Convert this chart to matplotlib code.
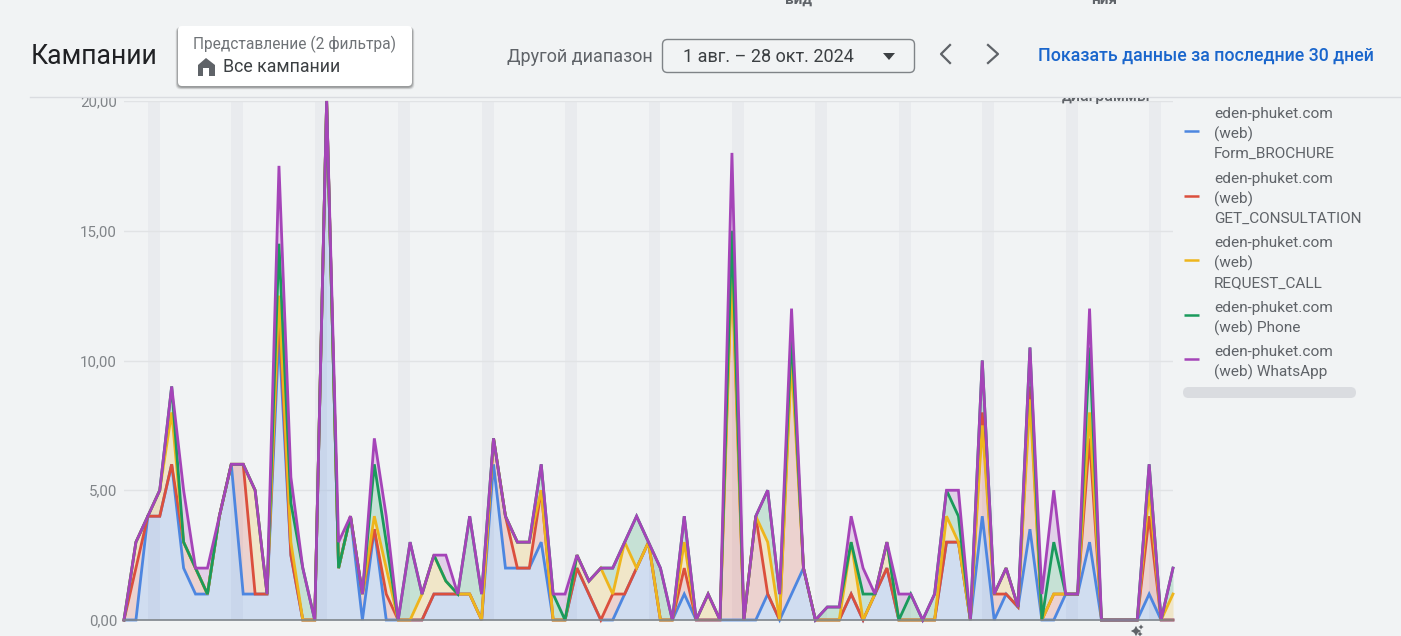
import matplotlib
matplotlib.use('Agg')
import matplotlib.pyplot as plt
from matplotlib.patches import FancyBboxPatch, Polygon, Rectangle

plt.rcParams['font.family'] = ['Roboto', 'DejaVu Sans']

# stacked tops, one value per day
form_brochure = [0, 0, 4, 4, 6, 2, 1, 1, 4, 6, 1, 1, 1, 11, 2.5, 0, 0, 20, 2, 4,
                 0, 3.5, 0, 0, 0, 0, 1, 1, 1, 1, 0, 6, 2, 2, 2, 3, 0, 0, 2, 1,
                 0, 0, 1, 2, 3, 0, 0, 1, 0, 0, 0, 0, 0, 0, 1, 0, 1, 2, 0, 0,
                 0, 1, 0, 1, 2, 0, 0, 0, 0, 3, 3, 0, 4, 0, 1, 0.5, 3.5, 0, 0, 1,
                 1, 3, 0, 0, 0, 0, 1, 0, 0]
get_consultation = [0, 2, 4, 4, 6, 3, 2, 1, 4, 6, 6, 1, 1, 12, 2.5, 0, 0, 20, 2, 4,
                    1, 3.5, 1, 0, 0, 0, 1, 1, 1, 1, 0, 7, 4, 2, 2, 5, 0, 0, 2, 1,
                    0, 1, 1, 2, 3, 0, 0, 2, 0, 0, 0, 14, 0, 4, 1, 0, 10.5, 2, 0, 0,
                    0, 1, 0, 1, 2, 0, 0, 0, 0, 3, 3, 0, 8, 1, 1, 0.5, 9, 0, 1, 1,
                    1, 7, 0, 0, 0, 0, 4, 0, 0]
request_call = [0, 3, 4, 5, 8, 3, 2, 1, 4, 6, 6, 5, 1, 12.5, 3, 0, 0, 20, 2, 4,
                1, 4, 2, 0, 0, 1, 2.5, 1.5, 1, 1, 0, 7, 4, 3, 3, 5, 0, 0, 2.5, 1.5,
                2, 1, 3, 2, 3, 0, 0, 3, 0, 1, 0, 13.5, 0, 4, 3, 0, 10, 2, 0, 0,
                0, 3, 0, 1, 3, 0, 0, 0, 0, 4, 3, 0, 7.5, 1, 2, 0.5, 8.5, 0, 1, 1,
                1, 8, 0, 0, 0, 0, 5, 0, 1]
phone = [0, 3, 4, 5, 9, 3, 2, 1, 4, 6, 6, 5, 1, 14.5, 4.5, 2, 0, 20, 2, 4,
         1, 6, 3, 0, 3, 1, 2.5, 1.5, 1, 4, 1, 7, 4, 3, 3, 6, 1, 0, 2.5, 1.5,
         2, 2, 3, 4, 3, 2, 0, 4, 0, 1, 0, 15, 0, 4, 5, 1, 11, 2, 0, 0.5,
         0.5, 3, 1, 1, 3, 0, 1, 0, 1, 5, 4, 0, 10, 1, 2, 0.5, 10.5, 0, 3, 1,
         1, 10.5, 0, 0, 0, 0, 6, 0, 2]
whatsapp = [0, 3, 4, 5, 9, 5, 2, 2, 4, 6, 6, 5, 1, 17.5, 5.5, 2, 0, 20, 3, 4,
            1, 7, 4, 0, 3, 1, 2.5, 2.5, 1, 4, 1, 7, 4, 3, 3, 6, 1, 1, 2.5, 1.5,
            2, 2, 3, 4, 3, 2, 0, 4, 0, 1, 0, 18, 0, 4, 5, 1, 12, 2, 0, 0.5,
            0.5, 4, 2, 1, 3, 1, 1, 0, 1, 5, 5, 0, 10, 1, 2, 0.5, 10.5, 1, 5, 1,
            1, 12, 0, 0, 0, 0, 6, 0, 2]

series_names = ['eden-phuket.com\n(web)\nForm_BROCHURE',
                'eden-phuket.com\n(web)\nGET_CONSULTATION',
                'eden-phuket.com\n(web)\nREQUEST_CALL',
                'eden-phuket.com\n(web) Phone',
                'eden-phuket.com\n(web) WhatsApp']
series_colors = ['#4d86e0', '#db4f3d', '#eeb51c', '#1a9a5c', '#a544b8']
y_ticks = [0, 5, 10, 15, 20]
y_tick_labels = ['0,00', '5,00', '10,00', '15,00', '20,00']
weekend_days = [2, 9, 16, 23, 30, 37, 44, 51, 58, 65, 72, 79, 86]

bg = '#f1f3f4'
W, H = 1401, 636

fig = plt.figure(figsize=(W / 100, H / 100), dpi=100, facecolor=bg)

# chart area, pixel box 124..1173 x 101..620
ax = fig.add_axes([124 / W, 1 - 620 / H, (1173 - 124) / W, (620 - 101) / H])
ax.set_facecolor('none')
days = list(range(len(whatsapp)))
ax.set_xlim(0, 88)
ax.set_ylim(0, 20)

for d in weekend_days:
    ax.axvspan(d, d + 1, color='#e9ebee', lw=0, zorder=0)
ax.set_yticks(y_ticks)
ax.set_yticklabels(y_tick_labels, fontsize=10.8, color='#808488')
ax.tick_params(axis='y', length=0, pad=5)
ax.set_xticks([])
ax.grid(axis='y', color='#e1e3e5', lw=1, zorder=1)
for s in ['top', 'right', 'left']:
    ax.spines[s].set_visible(False)
ax.spines['bottom'].set_color('#80868b')
ax.spines['bottom'].set_linewidth(1.2)
ax.spines['bottom'].set_zorder(6)

stack = [form_brochure, get_consultation, request_call, phone, whatsapp]
lower = [0] * len(days)
for vals, col in zip(stack, series_colors):
    ax.fill_between(days, lower, vals, color=col, alpha=0.2, lw=0, zorder=2)
    lower = vals
for vals, col in zip(stack, series_colors):
    ax.plot(days, vals, color=col, lw=2.0, zorder=3, clip_on=False, solid_joinstyle='miter')

# page furniture, drawn in pixel coordinates
ui = fig.add_axes([0, 0, 1, 1], zorder=5)
ui.set_xlim(0, W)
ui.set_ylim(H, 0)
ui.axis('off')

ui.add_patch(Rectangle((0, 0), W, 96.5, fc=bg, ec='none'))
ui.plot([30, W], [97, 97], color='#dadce0', lw=1)
ui.text(31, 57, 'Кампании', fontsize=19.2, color='#202124', va='center')

for off, a in [(5, 0.05), (4, 0.07), (3, 0.09), (2, 0.1), (1, 0.1)]:
    ui.add_patch(FancyBboxPatch((178 - off / 2, 26 + 1), 234 + off, 60 + off / 2,
                                boxstyle='round,pad=0,rounding_size=5', fc='#000000', ec='none', alpha=a))
ui.add_patch(FancyBboxPatch((178, 26), 234, 60, boxstyle='round,pad=0,rounding_size=4', fc='white', ec='none'))
ui.text(193, 44, 'Представление (2 фильтра)', fontsize=11.2, color='#6f7377', va='center')
ui.text(223, 66.5, 'Все кампании', fontsize=12.8, color='#3c4043', va='center')
ui.add_patch(Polygon([[206, 58], [215, 65], [215, 76], [198, 76], [198, 65]], fc='#5f6368', ec='none'))
ui.add_patch(Rectangle((203, 68), 6, 8, fc='white', ec='none'))

ui.text(507, 56.5, 'Другой диапазон', fontsize=13, color='#5f6368', va='center')
ui.add_patch(FancyBboxPatch((662.5, 39.5), 252, 33, boxstyle='round,pad=0,rounding_size=5',
                            fc='none', ec='#7f8387', lw=1))
ui.text(683, 56.5, '1 авг. – 28 окт. 2024', fontsize=13, color='#3c4043', va='center')
ui.add_patch(Polygon([[883, 53], [895, 53], [889, 60]], fc='#3c4043', ec='none'))
ui.plot([950, 941, 950], [45, 54, 63], color='#5f6368', lw=1.6)
ui.plot([988, 998, 988], [45, 54, 63], color='#5f6368', lw=1.6)
ui.text(1038, 56, 'Показать данные за последние 30 дней', fontsize=12.8, color='#1a66cc',
        va='center', fontweight='medium')

# half hidden labels cut off by the page edge and the divider
ui.text(798, 0, 'вид', fontsize=11, color='#5f6368', ha='center', va='center', fontweight='bold')
ui.text(1104, 0, 'ния', fontsize=11, color='#5f6368', ha='center', va='center', fontweight='bold')
cut = ui.text(1106, 97, 'диаграммы', fontsize=11.5, color='#5f6368', ha='center', va='center', fontweight='medium')
cut.set_clip_on(True)
cut.set_clip_path(Rectangle((1000, 97.5), 300, 20, transform=ui.transData))

# legend
legend_y = [131, 196, 260, 315, 359]
text_y = [[114, 134, 154], [179, 199, 219], [243, 263, 283], [308, 328], [352, 372]]
for name, col, ly, rows in zip(series_names, series_colors, legend_y, text_y):
    ui.plot([1184, 1199], [ly, ly], color=col, lw=1.8, solid_capstyle='butt')
    for line, ty in zip(name.split('\n'), rows):
        ui.text(1214, ty, line, fontsize=11.1, color='#5f6368', va='center')
ui.add_patch(FancyBboxPatch((1183, 387), 173, 11, boxstyle='round,pad=0,rounding_size=5.5',
                            fc='#dadce0', ec='none'))

# sparkle under the plot
ui.scatter([1136, 1141, 1140], [631, 627, 634], marker=(4, 1, 0), s=[55, 14, 14], color='#5f6368', lw=0)

fig.savefig('out.png', dpi=100, facecolor=bg)
